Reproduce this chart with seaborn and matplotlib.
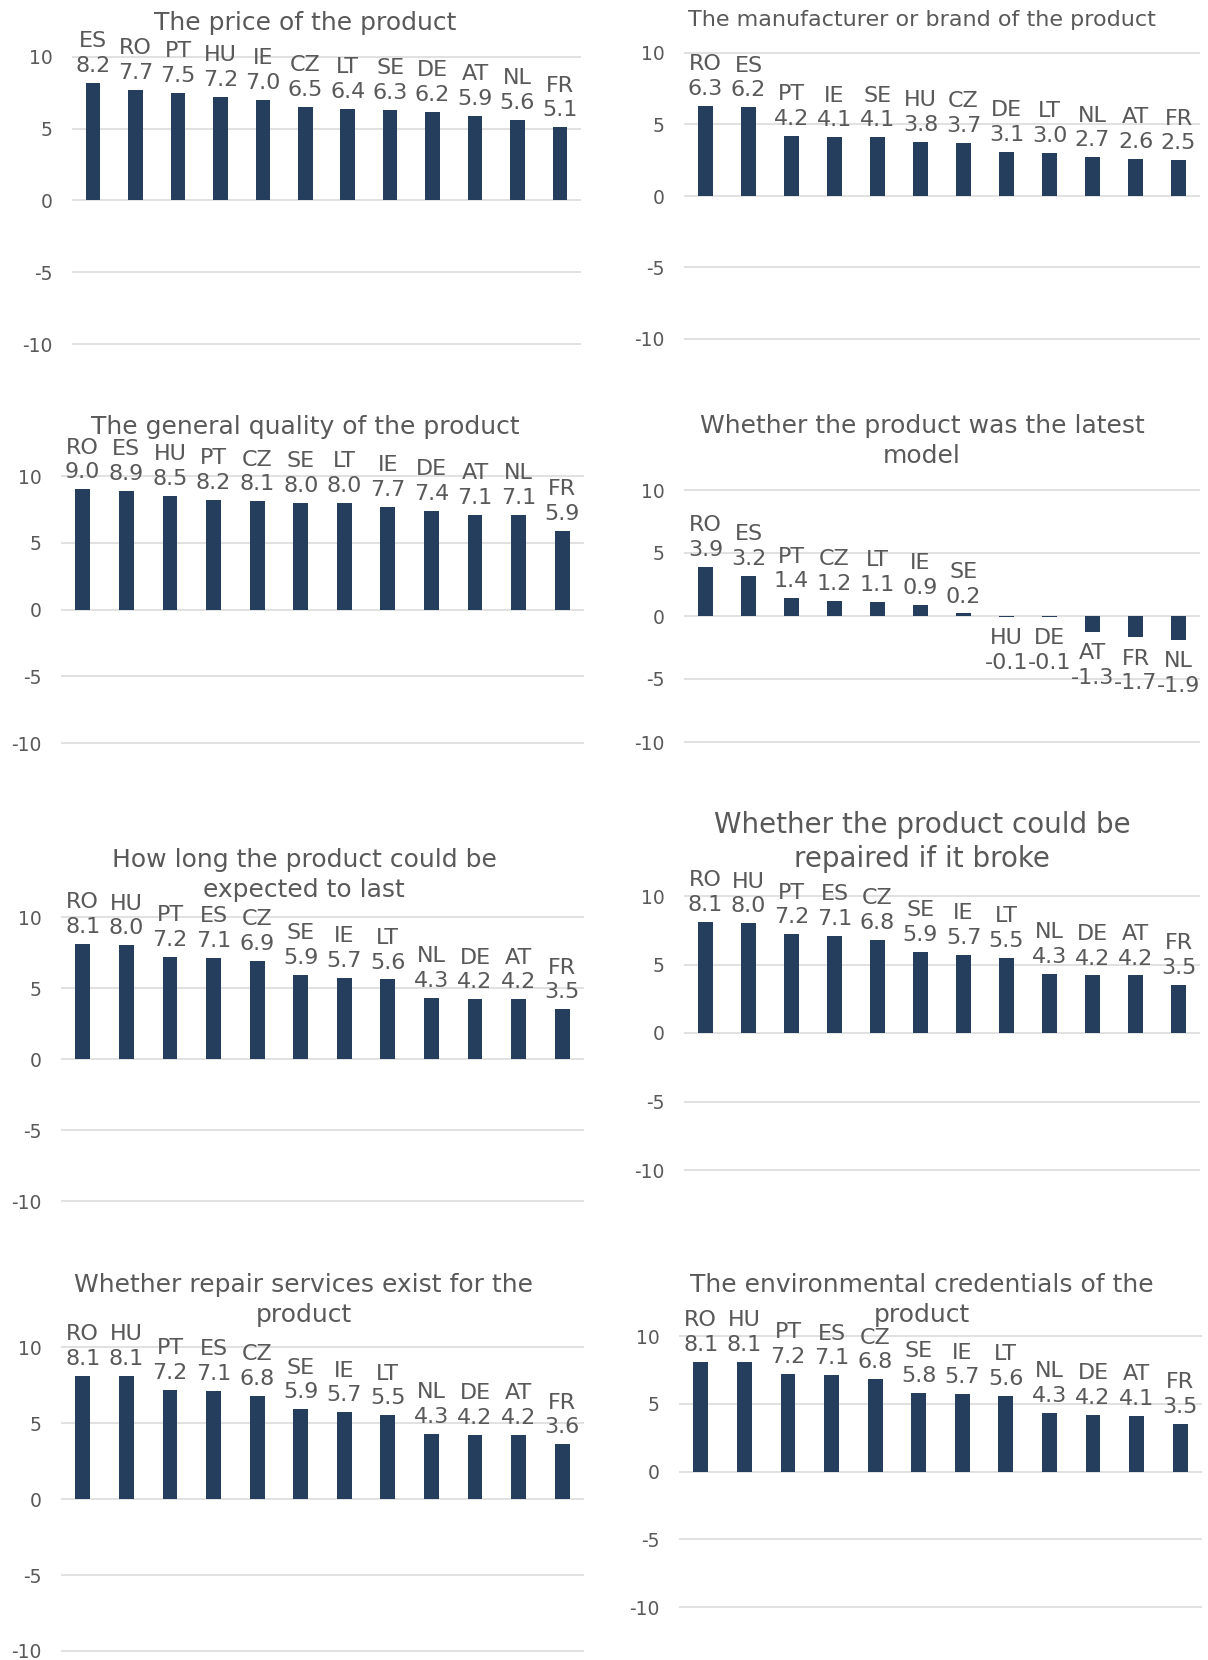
import matplotlib
matplotlib.use('Agg')
import matplotlib.pyplot as plt
import seaborn as sns

# Chart data, one block per panel
titles = [
    'The price of the product',
    'The manufacturer or brand of the product',
    'The general quality of the product',
    'Whether the product was the latest\nmodel',
    'How long the product could be\nexpected to last',
    'Whether the product could be\nrepaired if it broke',
    'Whether repair services exist for the\nproduct',
    'The environmental credentials of the\nproduct',
]

price_countries = ['ES', 'RO', 'PT', 'HU', 'IE', 'CZ', 'LT', 'SE', 'DE', 'AT', 'NL', 'FR']
price_values = [8.2, 7.7, 7.5, 7.2, 7.0, 6.5, 6.4, 6.3, 6.2, 5.9, 5.6, 5.1]

brand_countries = ['RO', 'ES', 'PT', 'IE', 'SE', 'HU', 'CZ', 'DE', 'LT', 'NL', 'AT', 'FR']
brand_values = [6.3, 6.2, 4.2, 4.1, 4.1, 3.8, 3.7, 3.1, 3.0, 2.7, 2.6, 2.5]

quality_countries = ['RO', 'ES', 'HU', 'PT', 'CZ', 'SE', 'LT', 'IE', 'DE', 'AT', 'NL', 'FR']
quality_values = [9.0, 8.9, 8.5, 8.2, 8.1, 8.0, 8.0, 7.7, 7.4, 7.1, 7.1, 5.9]

latest_countries = ['RO', 'ES', 'PT', 'CZ', 'LT', 'IE', 'SE', 'HU', 'DE', 'AT', 'FR', 'NL']
latest_values = [3.9, 3.2, 1.4, 1.2, 1.1, 0.9, 0.2, -0.1, -0.1, -1.3, -1.7, -1.9]

last_countries = ['RO', 'HU', 'PT', 'ES', 'CZ', 'SE', 'IE', 'LT', 'NL', 'DE', 'AT', 'FR']
last_values = [8.1, 8.0, 7.2, 7.1, 6.9, 5.9, 5.7, 5.6, 4.3, 4.2, 4.2, 3.5]

repaired_countries = ['RO', 'HU', 'PT', 'ES', 'CZ', 'SE', 'IE', 'LT', 'NL', 'DE', 'AT', 'FR']
repaired_values = [8.1, 8.0, 7.2, 7.1, 6.8, 5.9, 5.7, 5.5, 4.3, 4.2, 4.2, 3.5]

services_countries = ['RO', 'HU', 'PT', 'ES', 'CZ', 'SE', 'IE', 'LT', 'NL', 'DE', 'AT', 'FR']
services_values = [8.1, 8.1, 7.2, 7.1, 6.8, 5.9, 5.7, 5.5, 4.3, 4.2, 4.2, 3.6]

env_countries = ['RO', 'HU', 'PT', 'ES', 'CZ', 'SE', 'IE', 'LT', 'NL', 'DE', 'AT', 'FR']
env_values = [8.1, 8.1, 7.2, 7.1, 6.8, 5.8, 5.7, 5.6, 4.3, 4.2, 4.1, 3.5]

panels = [
    (price_countries, price_values),
    (brand_countries, brand_values),
    (quality_countries, quality_values),
    (latest_countries, latest_values),
    (last_countries, last_values),
    (repaired_countries, repaired_values),
    (services_countries, services_values),
    (env_countries, env_values),
]

# layout in pixels: left, right, y of 10 gridline, y of -10 gridline
boxes = [
    (72, 581, 57, 344),
    (684, 1200, 53, 339),
    (61, 584, 476, 743),
    (684, 1200, 490, 742),
    (61, 584, 917, 1201),
    (684, 1200, 896, 1170),
    (61, 584, 1347, 1651),
    (679, 1202, 1336, 1607),
]
# title centre x, centre y, font size
title_pos = [
    (305, 23, 18), (922, 20, 16),
    (305, 427, 18), (922, 441, 18),
    (304, 875, 18), (922, 842, 20),
    (304, 1300, 18), (922, 1300, 18),
]

bar_color = '#253E5E'
text_color = '#595959'
grid_color = '#D9D9D9'

sns.set_theme(style='white')
plt.rcParams['font.family'] = ['DejaVu Sans']
plt.rcParams['axes.unicode_minus'] = False

W, H = 1208, 1660
fig = plt.figure(figsize=(W / 100, H / 100), dpi=100)
pad = 0.3

for (countries, values), (x0, x1, y10, ym10), (tx, ty, tfs), title in zip(panels, boxes, title_pos, titles):
    ppu = (ym10 - y10) / 20.0
    top = y10 - pad * ppu
    bottom = ym10 + pad * ppu
    ax = fig.add_axes([x0 / W, 1 - bottom / H, (x1 - x0) / W, (bottom - top) / H])
    sns.barplot(x=countries, y=values, order=countries, color=bar_color,
                width=0.34, linewidth=0, saturation=1, ax=ax)
    ax.set_ylim(-10 - pad, 10 + pad)
    ax.set_xlim(-0.5, len(countries) - 0.5)
    ax.set_yticks([-10, -5, 0, 5, 10])
    ax.set_yticklabels(['-10', '-5', '0', '5', '10'])
    ax.tick_params(axis='y', length=0, pad=14, labelsize=13.5, labelcolor=text_color)
    ax.set_xticks([])
    ax.set_xlabel('')
    ax.set_ylabel('')
    for s in ax.spines.values():
        s.set_visible(False)
    ax.yaxis.grid(True, color=grid_color, linewidth=1.1)
    ax.set_axisbelow(True)
    ax.patch.set_alpha(0)

    for i, (c, v) in enumerate(zip(countries, values)):
        if v >= 0:
            ax.annotate(f'{c}\n{v:.1f}', xy=(i, v), xytext=(0, 5), textcoords='offset points',
                        ha='center', va='bottom', fontsize=16, color=text_color,
                        linespacing=1.3, annotation_clip=False)
        else:
            ax.annotate(f'{c}\n{v:.1f}', xy=(i, v), xytext=(0, -8), textcoords='offset points',
                        ha='center', va='top', fontsize=16, color=text_color,
                        linespacing=1.3, annotation_clip=False)

    fig.text(tx / W, 1 - ty / H, title, ha='center', va='center', fontsize=tfs,
             color=text_color, multialignment='center', linespacing=1.3)

fig.savefig('out.png', dpi=100)
